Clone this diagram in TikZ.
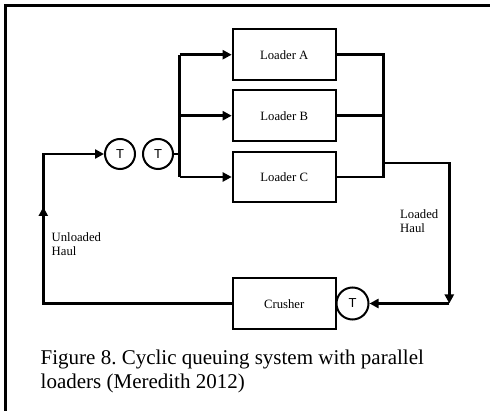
\documentclass[tikz,border=0pt]{standalone}
\usepackage{fontspec}
\setmainfont{Liberation Serif}
\newfontfamily\tfont{Liberation Sans}
\usetikzlibrary{arrows.meta}
\frenchspacing
\tikzset{
  box/.style={draw, line width=2pt, minimum width=103pt, minimum height=50.5pt, inner sep=0pt, font=\fontsize{12.7}{14}\selectfont},
  tnode/.style={draw, circle, line width=2pt, minimum size=30pt, inner sep=0pt, font=\tfont\fontsize{13}{14}\selectfont},
  wire/.style={line width=2.4pt},
  arr/.style={line width=2.4pt, -{Triangle[length=9pt,width=9pt]}},
  lbl/.style={align=left, inner sep=0pt, font=\fontsize{12.7}{14}\selectfont},
}
\begin{document}
\begin{tikzpicture}[x=1pt,y=-1pt]
\useasboundingbox (0,0) rectangle (490,411);
% frame
\draw[line width=2.2pt] (5.5,415) -- (5.5,5.5) -- (495,5.5);
% nodes
\node[box] (la) at (284.2,54.7) {Loader A};
\node[box] (lb) at (284.2,115.7) {Loader B};
\node[box] (lc) at (284.2,177) {Loader C};
\node[box] (cr) at (284.2,303.7) {Crusher};
\node[tnode] (t1) at (120,154) {T};
\node[tnode] (t2) at (158,154) {T};
\node[tnode, minimum size=32pt] (t3) at (352.5,303.5) {T};
% coordinates
\coordinate (busLtop) at (179.5,54.7);
\coordinate (busLmid) at (179.5,115.7);
\coordinate (busLbot) at (179.5,177);
\coordinate (busLt) at (179.5,154);
\coordinate (busRtop) at (383.3,54.7);
\coordinate (busRmid) at (383.3,115.7);
\coordinate (busRbot) at (383.3,177);
\coordinate (busRout) at (383.3,163.3);
\coordinate (rc1) at (449.3,163.3);
\coordinate (rc2) at (449.3,303.5);
\coordinate (lc1) at (43.3,303.7);
\coordinate (lc2) at (43.3,154);
\coordinate (upA) at (43.3,222);
\coordinate (upB) at (43.3,207);
% left bus
\draw[wire] (busLtop) -- (busLbot);
\draw[wire] (t2) -- (busLt);
\draw[arr] (busLtop) -- (la);
\draw[arr] (busLmid) -- (lb);
\draw[arr] (busLbot) -- (lc);
% right bus
\draw[wire] (la) -- (busRtop) -- (busRbot) -- (lc);
\draw[wire] (lb) -- (busRmid);
\draw[arr] (busRout) -- (rc1) -- (rc2);
\draw[arr] (rc2) -- (t3);
% return path
\draw[arr] (cr.west |- lc1) -- (lc1) -- (lc2) -- (t1);
\draw[arr] (upA) -- (upB);
% labels
\node[lbl, anchor=north west] (ul) at (51.5,232) {Unloaded\\Haul};
\node[lbl, anchor=north west] (ll) at (400,209) {Loaded\\Haul};
\node[align=left, inner sep=0pt, anchor=base west, font=\fontsize{21}{24.5}\selectfont] (cap) at (40.5,389) {Figure 8. Cyclic queuing system with parallel\\loaders (Meredith 2012)};
\end{tikzpicture}
\end{document}
